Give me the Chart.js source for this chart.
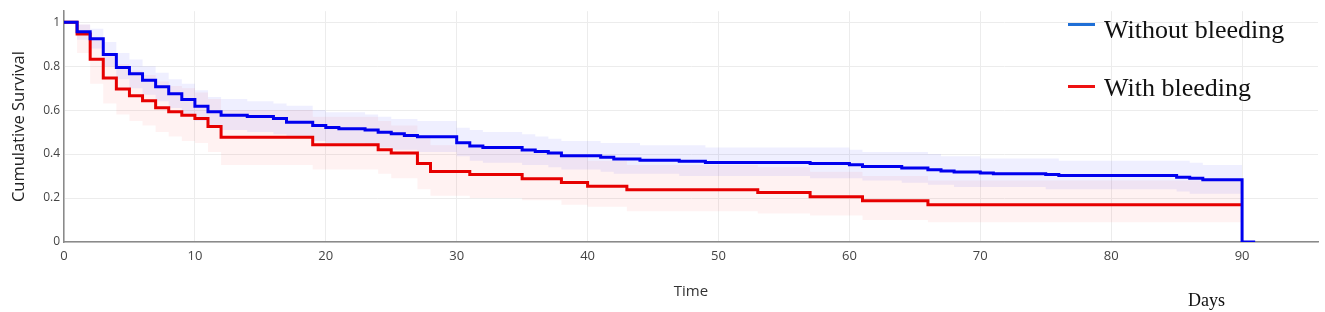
<!DOCTYPE html>
<html>
<head>
<meta charset="utf-8">
<script src="https://cdn.jsdelivr.net/npm/chart.js@4.4.1/dist/chart.umd.min.js"></script>
<style>
  html, body { margin: 0; padding: 0; background: #fff; }
  #wrap { position: relative; width: 1325px; height: 312px; overflow: hidden; }
  canvas { position: absolute; left: 0; top: 0; }
  .leg { position: absolute; font-family: "Liberation Serif", "Times New Roman", serif; font-size: 26px; line-height: 26px; color: #111; white-space: nowrap; }
  .legline { position: absolute; width: 27px; height: 3px; }
  .days { position: absolute; font-family: "Liberation Serif", "Times New Roman", serif; font-size: 18px; line-height: 18px; color: #111; }
</style>
</head>
<body>
<div id="wrap">
  <canvas id="c" width="1325" height="312"></canvas>
  <div class="legline" style="left:1068px; top:23px; background:#1f6fd6;"></div>
  <div class="leg" style="left:1104px; top:17px;">Without bleeding</div>
  <div class="legline" style="left:1068px; top:85px; background:#ee1111;"></div>
  <div class="leg" style="left:1104px; top:75px;">With bleeding</div>
  <div class="days" style="left:1188px; top:291px;">Days</div>
</div>
<script>
// ---- Data ----
const seriesNames = ["Without bleeding", "With bleeding"];

// Without bleeding (blue): step times (days) and survival after each step
const blueTimes = [0,1,2,3,4,5,6,7,8,9,10,11,12,14,16,17,19,20,21,23,24,25,26,27,30,31,32,35,36,37,38,41,42,44,47,49,57,60,61,64,66,67,68,70,71,75,76,85,86,87,90,91];
const blueSurv  = [1.000,0.956,0.925,0.853,0.794,0.765,0.736,0.706,0.674,0.648,0.618,0.593,0.577,0.571,0.562,0.545,0.530,0.521,0.515,0.509,0.499,0.493,0.485,0.479,0.452,0.437,0.430,0.418,0.412,0.405,0.392,0.385,0.378,0.372,0.367,0.362,0.357,0.352,0.344,0.337,0.329,0.323,0.319,0.314,0.310,0.307,0.302,0.295,0.290,0.283,0.000,0.000];
// confidence band (for steps up to day 87, closed at day 90)
const blueUpper = [1.00,0.99,0.97,0.91,0.86,0.83,0.80,0.77,0.74,0.72,0.69,0.66,0.65,0.64,0.63,0.62,0.60,0.59,0.59,0.58,0.57,0.56,0.56,0.55,0.52,0.51,0.50,0.49,0.48,0.47,0.46,0.45,0.45,0.44,0.44,0.43,0.43,0.42,0.41,0.41,0.40,0.39,0.39,0.38,0.38,0.38,0.37,0.37,0.36,0.35];
const blueLower = [1.00,0.92,0.88,0.80,0.74,0.70,0.67,0.64,0.61,0.58,0.55,0.53,0.51,0.50,0.49,0.48,0.46,0.45,0.45,0.44,0.43,0.42,0.42,0.41,0.39,0.37,0.36,0.35,0.35,0.34,0.33,0.32,0.31,0.31,0.30,0.30,0.29,0.29,0.28,0.27,0.26,0.26,0.25,0.25,0.25,0.24,0.24,0.23,0.22,0.22];

// With bleeding (red)
const redTimes = [0,1,2,3,4,5,6,7,8,9,10,11,12,19,24,25,27,28,31,35,38,40,43,53,57,61,66,90];
const redSurv  = [1.000,0.946,0.831,0.746,0.696,0.665,0.643,0.611,0.593,0.577,0.562,0.526,0.476,0.442,0.420,0.405,0.357,0.321,0.307,0.288,0.271,0.254,0.238,0.225,0.206,0.188,0.170,0.170];
const redUpper = [1.00,0.99,0.92,0.85,0.81,0.78,0.76,0.73,0.71,0.70,0.68,0.65,0.60,0.57,0.55,0.53,0.48,0.44,0.43,0.41,0.39,0.37,0.35,0.34,0.32,0.30,0.28];
const redLower = [1.00,0.86,0.72,0.63,0.58,0.55,0.53,0.50,0.48,0.46,0.45,0.41,0.35,0.33,0.31,0.29,0.24,0.21,0.20,0.19,0.17,0.16,0.14,0.13,0.12,0.10,0.09];

const bandEnd = 90;
const xTicks = [0,10,20,30,40,50,60,70,80,90];
const yTicks = [0,0.2,0.4,0.6,0.8,1];
const yTickLabels = ["0","0.2","0.4","0.6","0.8","1"];
const xMax = 95.8, yMax = 1.05;

// ---- Build points ----
function pts(times, vals) { return times.map((t, i) => ({ x: t, y: vals[i] })); }
function band(times, vals) {
  const p = vals.map((v, i) => ({ x: times[i], y: v }));
  p.push({ x: bandEnd, y: vals[vals.length - 1] });
  return p;
}

const BLUE = '#0000ee', RED = '#e60000';

const datasets = [
  { label: seriesNames[0], data: pts(blueTimes, blueSurv), borderColor: BLUE, borderWidth: 3, stepped: 'before', pointRadius: 0, fill: false, order: 0 },
  { label: seriesNames[1], data: pts(redTimes, redSurv), borderColor: RED, borderWidth: 3, stepped: 'before', pointRadius: 0, fill: false, order: 1 },
  { label: 'blue upper', data: band(blueTimes, blueUpper), borderWidth: 0, borderColor: 'rgba(0,0,0,0)', backgroundColor: 'rgba(40,40,255,0.075)', stepped: 'before', pointRadius: 0, fill: '+1', order: 2 },
  { label: 'blue lower', data: band(blueTimes, blueLower), borderWidth: 0, borderColor: 'rgba(0,0,0,0)', stepped: 'before', pointRadius: 0, fill: false, order: 3 },
  { label: 'red upper', data: band(redTimes, redUpper), borderWidth: 0, borderColor: 'rgba(0,0,0,0)', backgroundColor: 'rgba(255,40,40,0.06)', stepped: 'before', pointRadius: 0, fill: '+1', order: 4 },
  { label: 'red lower', data: band(redTimes, redLower), borderWidth: 0, borderColor: 'rgba(0,0,0,0)', stepped: 'before', pointRadius: 0, fill: false, order: 5 }
];

new Chart(document.getElementById('c'), {
  type: 'line',
  data: { datasets },
  options: {
    responsive: false,
    animation: false,
    events: [],
    layout: { padding: { top: 4, right: 7, left: 0, bottom: 0 } },
    plugins: { legend: { display: false }, tooltip: { enabled: false } },
    scales: {
      x: {
        type: 'linear', min: 0, max: xMax,
        afterBuildTicks: s => { s.ticks = xTicks.map(v => ({ value: v })); },
        afterFit: s => { s.height = 70; },
        ticks: { includeBounds: false, autoSkip: false, maxRotation: 0, padding: 6, color: '#444', font: { family: 'Open Sans', size: 13 } },
        grid: { color: '#ececec', drawTicks: false },
        border: { color: '#8a8a8a', width: 1.5 },
        title: { display: true, text: 'Time', color: '#333', font: { family: 'Open Sans', size: 15 }, padding: { top: 0, bottom: 11 } }
      },
      y: {
        type: 'linear', min: 0, max: yMax,
        afterBuildTicks: s => { s.ticks = yTicks.map(v => ({ value: v })); },
        afterFit: s => { s.width = 64; },
        ticks: {
          includeBounds: false, padding: 4, color: '#444', font: { family: 'Open Sans', size: 12 },
          callback: (v) => { const i = yTicks.indexOf(v); return i >= 0 ? yTickLabels[i] : ''; }
        },
        grid: { color: '#ececec', drawTicks: false },
        border: { color: '#8a8a8a', width: 1.5 },
        title: { display: true, text: 'Cumulative Survival', color: '#222', font: { family: 'Open Sans', size: 16.5 }, padding: { top: 9, bottom: 0 } }
      }
    }
  }
});
</script>
</body>
</html>
